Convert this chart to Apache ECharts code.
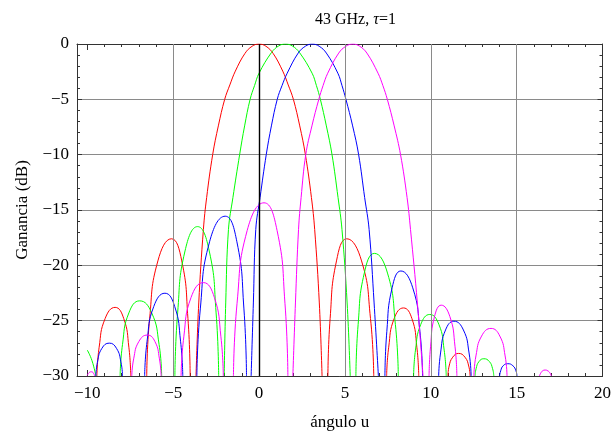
<!DOCTYPE html>
<html>
<head>
<meta charset="utf-8">
<script src="https://cdn.jsdelivr.net/npm/echarts@6/dist/echarts.min.js"></script>
<style>html,body{margin:0;padding:0;background:#fff}#c{width:614px;height:436px}</style>
</head>
<body>
<div id="c"></div>
<script>
// ---- data: [u, gain dB] per lobe ----
const redLobes = [
 [[-9.44,-30],[-9.31,-27.4],[-8.96,-24.8],[-8.38,-23.8],[-7.88,-24.8],[-7.58,-27.4],[-7.47,-30]],
 [[-6.54,-30],[-6.37,-24.8],[-5.89,-19.6],[-5.10,-17.6],[-4.50,-19.6],[-4.14,-24.8],[-4.01,-30]],
 [[-3.67,-30],[-3.51,-23.4],[-3.24,-16.76],[-3.05,-13.87],[-2.70,-10],[-2.37,-7.4],[-2.0,-5.0],[-1.7,-3.7],[-1.38,-2.45],[-0.82,-0.85],[-0.4,-0.2],[0,0],[0.4,-0.2],[0.82,-0.85],[1.38,-2.45],[1.7,-3.7],[2.0,-5.0],[2.37,-7.4],[2.70,-10],[3.05,-13.87],[3.24,-16.76],[3.51,-23.4],[3.67,-30]],
 [[4.01,-30],[4.14,-24.8],[4.51,-19.6],[5.11,-17.6],[5.97,-19.6],[6.49,-24.8],[6.68,-30]],
 [[7.43,-30],[7.55,-27.4],[7.87,-24.8],[8.41,-23.85],[8.90,-24.8],[9.19,-27.4],[9.30,-30]],
 [[11.0,-30],[11.07,-29.1],[11.28,-28.3],[11.62,-27.96],[11.99,-28.3],[12.21,-29.1],[12.29,-30]]
];
const greenLobes = [
 [[-10,-27.66],[-9.73,-28.6],[-9.50,-30]],
 [[-8.09,-30],[-7.95,-27.15],[-7.58,-24.3],[-6.95,-23.21],[-6.25,-24.3],[-5.82,-27.15],[-5.67,-30]],
 [[-4.9,-30],[-4.74,-24.3],[-4.31,-18.7],[-3.58,-16.5],[-2.90,-18.7],[-2.50,-24.3],[-2.35,-30]],
 [[-2.03,-30],[-1.94,-23.4],[-1.78,-16.76],[-1.52,-13.87],[-1.13,-10],[-0.84,-7.4],[-0.52,-5],[-0.26,-3.75],[0.0,-2.64],[0.72,-0.78],[1.14,-0.18],[1.54,0],[1.94,-0.18],[2.36,-0.78],[3.09,-2.64],[3.34,-3.75],[3.57,-5],[3.92,-7.4],[4.25,-10],[4.6,-13.87],[4.83,-16.76],[5.13,-23.4],[5.31,-30]],
 [[5.64,-30],[5.77,-25.35],[6.13,-20.7],[6.72,-18.92],[7.48,-20.7],[7.94,-25.35],[8.11,-30]],
 [[9.0,-30],[9.11,-27.66],[9.42,-25.33],[9.94,-24.44],[10.47,-25.33],[10.78,-27.66],[10.9,-30]],
 [[12.58,-30],[12.64,-29.34],[12.81,-28.69],[13.09,-28.44],[13.41,-28.69],[13.60,-29.34],[13.67,-30]]
];
const blueLobes = [
 [[-9.5,-30],[-9.41,-28.75],[-9.15,-27.5],[-8.72,-27.03],[-8.30,-27.5],[-8.04,-28.75],[-7.95,-30]],
 [[-6.66,-30],[-6.52,-26.86],[-6.13,-23.72],[-5.48,-22.52],[-4.91,-23.72],[-4.57,-26.86],[-4.44,-30]],
 [[-3.62,-30],[-3.42,-23.94],[-2.88,-17.87],[-1.97,-15.56],[-1.29,-17.87],[-0.88,-23.94],[-0.73,-30]],
 [[-0.46,-30],[-0.33,-23.4],[-0.19,-16.76],[0.06,-13.87],[0.42,-10],[0.72,-7.4],[1.06,-5],[1.34,-3.75],[1.64,-2.64],[2.28,-0.82],[2.7,-0.2],[3.1,0],[3.5,-0.2],[3.92,-0.82],[4.59,-2.64],[4.83,-3.75],[5.06,-5],[5.45,-7.4],[5.8,-10],[6.15,-13.87],[6.41,-16.76],[6.7,-23.4],[6.95,-30]],
 [[7.33,-30],[7.44,-26.0],[7.75,-22.03],[8.26,-20.51],[8.95,-22.03],[9.37,-26.0],[9.52,-30]],
 [[10.46,-30],[10.57,-27.92],[10.86,-25.84],[11.35,-25.05],[11.90,-25.84],[12.23,-27.92],[12.35,-30]],
 [[14.01,-30],[14.07,-29.53],[14.22,-29.07],[14.48,-28.89],[14.78,-29.07],[14.96,-29.53],[15.02,-30]]
];
const magentaLobes = [
 [[-10,-29.95],[-9.9,-29.7],[-9.75,-29.62],[-9.62,-29.8],[-9.58,-30]],
 [[-7.41,-30],[-7.30,-28.45],[-7.0,-26.89],[-6.5,-26.3],[-6.06,-26.89],[-5.80,-28.45],[-5.70,-30]],
 [[-4.54,-30],[-4.38,-26.46],[-3.96,-22.91],[-3.24,-21.56],[-2.60,-22.91],[-2.22,-26.46],[-2.08,-30]],
 [[-1.49,-30],[-1.28,-23.43],[-0.69,-16.85],[0.29,-14.35],[1.05,-16.85],[1.51,-23.43],[1.68,-30]],
 [[1.97,-30],[2.12,-23.4],[2.30,-16.76],[2.45,-13.87],[2.72,-10],[3.08,-7.4],[3.48,-5],[3.73,-3.75],[4.0,-2.64],[4.64,-0.82],[5.06,-0.2],[5.46,0],[5.86,-0.2],[6.28,-0.82],[6.93,-2.64],[7.21,-3.75],[7.47,-5],[7.87,-7.4],[8.24,-10],[8.62,-13.87],[8.82,-16.76],[9.22,-23.4],[9.55,-30]],
 [[9.90,-30],[9.99,-27.31],[10.22,-24.62],[10.61,-23.6],[11.11,-24.62],[11.41,-27.31],[11.52,-30]],
 [[12.51,-30],[12.63,-28.19],[12.96,-26.39],[13.51,-25.7],[14.02,-26.39],[14.33,-28.19],[14.44,-30]],
 [[16.33,-30],[16.40,-29.75],[16.50,-29.55],[16.66,-29.46],[16.83,-29.55],[16.95,-29.75],[17.02,-30]]
];
const xMajorTicks = [-10,-5,0,5,10,15,20];
const xMinorTicks = [-10,-9,-8,-7,-6,-5,-4,-3,-2,-1,0,1,2,3,4,5,6,7,8,9,10,11,12,13,14,15,16,17,18,19,20];
const xGridLines = [-5,5,10,15];
const titleText = '43 GHz, {i|τ}=1';
const xName = 'ángulo u';
const yName = 'Ganancia (dB)';

const FONT = "'Liberation Serif','DejaVu Serif',serif";
const fmt = v => (v < 0 ? '\u2212' + Math.abs(v) : String(v));

function xAx(pos, ticks, len, showLine, showLabel) {
  return {
    type: 'value', position: pos, min: -10.6, max: 20,
    axisLine: {show: showLine, onZero: false, lineStyle: {color: '#333', width: 1}},
    axisTick: {show: true, inside: true, length: len, customValues: ticks, lineStyle: {color: '#333', width: 1}},
    axisLabel: {show: showLabel, customValues: xMajorTicks, formatter: fmt, margin: 9,
      fontFamily: FONT, fontSize: 17, color: '#000'},
    splitLine: {show: false},
    name: showLabel ? xName : '', nameLocation: 'middle', nameGap: 38,
    nameTextStyle: {fontFamily: FONT, fontSize: 17, color: '#000'}
  };
}
function yAx(pos, showLabel) {
  return {
    type: 'value', position: pos, min: -30, max: 0, interval: 5,
    axisLine: {show: true, onZero: false, lineStyle: {color: '#333', width: 1}},
    axisTick: {show: true, inside: true, length: 5, lineStyle: {color: '#333'}},
    minorTick: {show: true, splitNumber: 5, length: 3, lineStyle: {color: '#333'}},
    axisLabel: {show: showLabel, formatter: fmt, margin: 8, fontFamily: FONT, fontSize: 17, color: '#000'},
    splitLine: {show: showLabel, lineStyle: {color: '#8a8a8a', width: 1}},
    name: showLabel ? yName : '', nameLocation: 'middle', nameGap: 46, nameRotate: 90,
    nameTextStyle: {fontFamily: FONT, fontSize: 17, color: '#000'}
  };
}

const series = [];
series.push({
  type: 'line', data: [], z: 1, silent: true, xAxisIndex: 0, yAxisIndex: 0,
  markLine: {
    symbol: 'none', silent: true, animation: false, label: {show: false},
    emphasis: {disabled: true},
    data: xGridLines.map(v => ({xAxis: v, lineStyle: {color: '#8a8a8a', width: 1, type: 'solid'}}))
      .concat([{xAxis: 0, lineStyle: {color: '#000', width: 1.4, type: 'solid'}}])
  }
});
function addLobes(lobes, color) {
  lobes.forEach(l => series.push({
    type: 'line', data: l, xAxisIndex: 0, yAxisIndex: 0, z: 3,
    smooth: l.length > 10 ? 0.4 : 0.5, showSymbol: false, symbol: 'none',
    clip: true, silent: true, animation: false,
    lineStyle: {color: color, width: 1}
  }));
}
addLobes(redLobes, '#ff0000');
addLobes(greenLobes, '#00ff00');
addLobes(blueLobes, '#0000ff');
addLobes(magentaLobes, '#ff00ff');

const chart = echarts.init(document.getElementById('c'), null, {renderer: 'canvas'});
chart.setOption({
  animation: false,
  backgroundColor: '#fff',
  title: {
    text: titleText, left: 310, top: 7,
    textStyle: {fontFamily: FONT, fontSize: 16, fontWeight: 'normal', color: '#000',
      rich: {i: {fontFamily: FONT, fontSize: 16, fontStyle: 'italic', color: '#000'}}}
  },
  grid: {left: 77, right: 9, top: 44, bottom: 59, containLabel: false},
  xAxis: [
    xAx('bottom', xMinorTicks, 3, true, true),
    xAx('bottom', xMajorTicks, 6, false, false),
    xAx('top', xMinorTicks, 3, true, false),
    xAx('top', xMajorTicks, 6, false, false)
  ],
  yAxis: [yAx('left', true), yAx('right', false)],
  series: series
});
</script>
</body>
</html>
